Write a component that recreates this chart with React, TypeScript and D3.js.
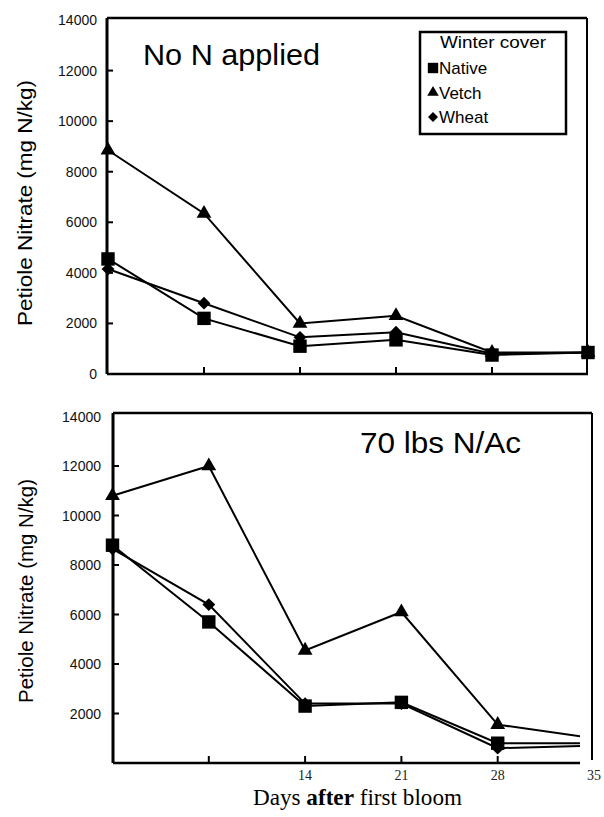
import React from 'react';
import * as d3 from 'd3';

// days after first bloom
const days = [0, 7, 14, 21, 28, 35];
const yTickValues = [0, 2000, 4000, 6000, 8000, 10000, 12000, 14000];
const xTickValues = [7, 14, 21, 28];
const xTickLabelValues = [14, 21, 28, 35];
const seriesNames = ['Native', 'Vetch', 'Wheat'];

// No N applied
const noNNative = [4550, 2200, 1100, 1350, 750, 850];
const noNVetch = [8850, 6350, 2000, 2300, 850, 850];
const noNWheat = [4150, 2800, 1450, 1650, 800, 850];

// 70 lbs N/Ac
const highNNative = [8800, 5700, 2300, 2450, 800, 800];
const highNVetch = [10800, 12000, 4550, 6100, 1550, 1000];
const highNWheat = [8650, 6400, 2400, 2400, 600, 700];

const symbolType = { Native: d3.symbolSquare, Vetch: d3.symbolTriangle, Wheat: d3.symbolDiamond2 };
const symbolSize = { Native: 180, Vetch: 95, Wheat: 105 };

const SANS = '"Liberation Sans", Arial, sans-serif';
const SERIF = '"Liberation Serif", "Times New Roman", serif';

const Panel = ({ id, values, x, y, box, note, yLabel, tickRight, showZero, xLabels, clip, legend }) => {
  const line = d3.line<number>()
    .x((_, i) => x(days[i]))
    .y(d => y(d));

  return (
    <g>
      {clip && (
        <defs>
          <clipPath id={id}>
            <rect x={0} y={box.top - 20} width={box.axisRight} height={box.bottom - box.top + 40} />
          </clipPath>
        </defs>
      )}

      {/* frame */}
      <line x1={box.left} x2={box.right} y1={box.top} y2={box.top} stroke="#000" strokeWidth={2.5} />
      <line x1={box.right} x2={box.right} y1={box.top} y2={box.rightBottom} stroke="#000" strokeWidth={2} />
      <line x1={box.left} x2={box.left} y1={box.top} y2={box.bottom} stroke="#000" strokeWidth={3} />
      <line x1={box.left} x2={box.axisRight} y1={box.bottom} y2={box.bottom} stroke="#000" strokeWidth={2.5} />

      {/* y ticks, pointing inward */}
      {yTickValues.filter(v => v > 0 && v < 14000).map(v => (
        <line key={'yt' + v} x1={box.left} x2={box.left + 6} y1={y(v)} y2={y(v)} stroke="#000" strokeWidth={2} />
      ))}
      {yTickValues.filter(v => showZero || v > 0).map(v => (
        <text key={'yl' + v} x={tickRight} y={y(v)} dy="0.36em" textAnchor="end"
          fontFamily={SANS} fontSize={14} fill="#111">{v}</text>
      ))}

      {/* x ticks, pointing inward */}
      {xTickValues.map(v => (
        <line key={'xt' + v} x1={x(v)} x2={x(v)} y1={box.bottom} y2={box.bottom - 7} stroke="#000" strokeWidth={2} />
      ))}
      {xLabels && xTickLabelValues.map(v => (
        <text key={'xl' + v} x={x(v)} y={box.bottom + 17} textAnchor="middle"
          fontFamily={SERIF} fontSize={14} fill="#222">{v}</text>
      ))}

      {/* series */}
      <g clipPath={clip ? `url(#${id})` : undefined}>
        {seriesNames.map((name, si) => (
          <path key={name} d={line(values[si]) || ''} fill="none" stroke="#000" strokeWidth={2} />
        ))}
        {seriesNames.map((name, si) => values[si].map((v, i) => (
          <path key={name + i}
            d={d3.symbol().type(symbolType[name]).size(symbolSize[name])() || ''}
            transform={`translate(${x(days[i])},${y(v)})`} fill="#000" />
        )))}
      </g>

      {/* panel note */}
      <text x={note.x} y={note.y} fontFamily={SANS} fontSize={30} textLength={note.len}
        lengthAdjust="spacingAndGlyphs" fill="#000">{note.text}</text>

      {/* y axis title */}
      <text transform={`translate(${yLabel.x},${yLabel.y}) rotate(-90)`} textAnchor="middle"
        fontFamily={SANS} fontSize={yLabel.size} textLength={yLabel.len} lengthAdjust="spacingAndGlyphs"
        fill="#000">Petiole Nitrate (mg N/kg)</text>

      {legend && (
        <g>
          <rect x={legend.x} y={legend.y} width={legend.w} height={legend.h} fill="#fff" stroke="#000" strokeWidth={2.5} />
          <text x={legend.x + 20} y={legend.y + 16} fontFamily={SANS} fontSize={16} textLength={106}
            lengthAdjust="spacingAndGlyphs">Winter cover</text>
          {seriesNames.map((name, i) => (
            <g key={name} transform={`translate(${legend.x + 13},${legend.y + 36 + i * 24.5})`}>
              <path d={d3.symbol().type(symbolType[name]).size(symbolSize[name] * 0.6)() || ''} fill="#000" />
              <text x={6} y={0} dy="0.36em" fontFamily={SANS} fontSize={17}>{name}</text>
            </g>
          ))}
        </g>
      )}
    </g>
  );
};

export default function App() {
  const xTop = d3.scaleLinear().domain([0, 35]).range([108, 588]);
  const yTop = d3.scaleLinear().domain([0, 14000]).range([374, 20]);
  const xBottom = d3.scaleLinear().domain([0, 35]).range([112.5, 594]);
  const yBottom = d3.scaleLinear().domain([0, 14000]).range([763, 416.5]);

  return (
    <svg width={604} height={817} style={{ position: 'absolute', left: 0, top: 0, background: '#fff' }}>
      <rect width={604} height={817} fill="#fff" />
      <Panel
        id="clipTop"
        values={[noNNative, noNVetch, noNWheat]}
        x={xTop} y={yTop}
        box={{ left: 107, top: 18, right: 587, bottom: 374, rightBottom: 374, axisRight: 588 }}
        note={{ text: 'No N applied', x: 143, y: 65, len: 177 }}
        yLabel={{ x: 32, y: 203, size: 21, len: 246 }}
        tickRight={97}
        showZero={true}
        xLabels={false}
        clip={false}
        legend={{ x: 420, y: 32, w: 146, h: 102 }}
      />
      <Panel
        id="clipBottom"
        values={[highNNative, highNVetch, highNWheat]}
        x={xBottom} y={yBottom}
        box={{ left: 113, top: 413, right: 592, bottom: 763, rightBottom: 760, axisRight: 580 }}
        note={{ text: '70 lbs N/Ac', x: 360, y: 453, len: 161 }}
        yLabel={{ x: 33, y: 591, size: 20, len: 224 }}
        tickRight={101}
        showZero={false}
        xLabels={true}
        clip={true}
        legend={null}
      />
      <text x={253} y={805} fontFamily={SERIF} fontSize={23} textLength={209} lengthAdjust="spacingAndGlyphs" fill="#000">
        Days <tspan fontWeight="bold">after</tspan> first bloom
      </text>
    </svg>
  );
}
